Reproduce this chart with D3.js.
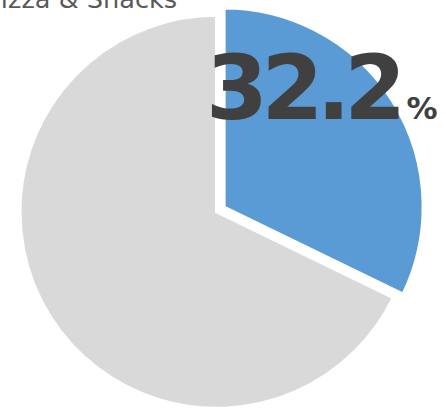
<!DOCTYPE html>
<html>
<head>
<meta charset="utf-8">
<script src="https://cdn.jsdelivr.net/npm/d3@7"></script>
<style>
  html, body { margin: 0; padding: 0; background: #ffffff; }
  svg { display: block; }
</style>
</head>
<body>
<svg id="chart" width="446" height="408"></svg>
<script>
// ---- data ----
const categories = ["Pizza & Snacks", "Other"];
const values = [32.2, 67.8];
const colors = ["#5B9BD5", "#D9D9D9"];
const title = "Pizza & Snacks";
const valueLabel = "32.2";
const unitLabel = "%";

// ---- layout ----
const W = 446, H = 408;
const cx = 216.5, cy = 211.8;
const rBase = 196.5, rHighlight = 199;
const explode = 9;

const svg = d3.select("#chart");

const pie = d3.pie().sort(null).value(d => d.value);
const arcs = pie(categories.map((c, i) => ({ name: c, value: values[i], color: colors[i] })));

const g = svg.append("g").attr("transform", `translate(${cx},${cy})`);

g.selectAll("path")
  .data(arcs)
  .join("path")
  .attr("d", (d, i) => d3.arc().innerRadius(0).outerRadius(i === 0 ? rHighlight : rBase)(d))
  .attr("transform", (d, i) => {
    if (i !== 0) return null;
    const a = (d.startAngle + d.endAngle) / 2;
    return `translate(${Math.sin(a) * explode},${-Math.cos(a) * explode})`;
  })
  .attr("fill", d => d.data.color)
  .attr("stroke", "#ffffff")
  .attr("stroke-width", 3)
  .attr("stroke-linejoin", "miter");

// title (partially cropped at top-left, as in the reference)
svg.append("text")
  .attr("x", -14)
  .attr("y", 7.5)
  .attr("font-family", "DejaVu Sans, Verdana, sans-serif")
  .attr("font-size", 25.6)
  .attr("fill", "#595959")
  .text(title);

// big value label
const lbl = svg.append("text")
  .attr("x", 206)
  .attr("y", 119)
  .attr("font-family", "DejaVu Sans, Verdana, sans-serif")
  .attr("font-weight", "bold")
  .attr("fill", "#404040");
lbl.append("tspan")
  .attr("font-size", 89)
  .attr("letter-spacing", -6.5)
  .text(valueLabel);
lbl.append("tspan")
  .attr("font-size", 31)
  .attr("dx", 7)
  .text(unitLabel);
</script>
</body>
</html>
